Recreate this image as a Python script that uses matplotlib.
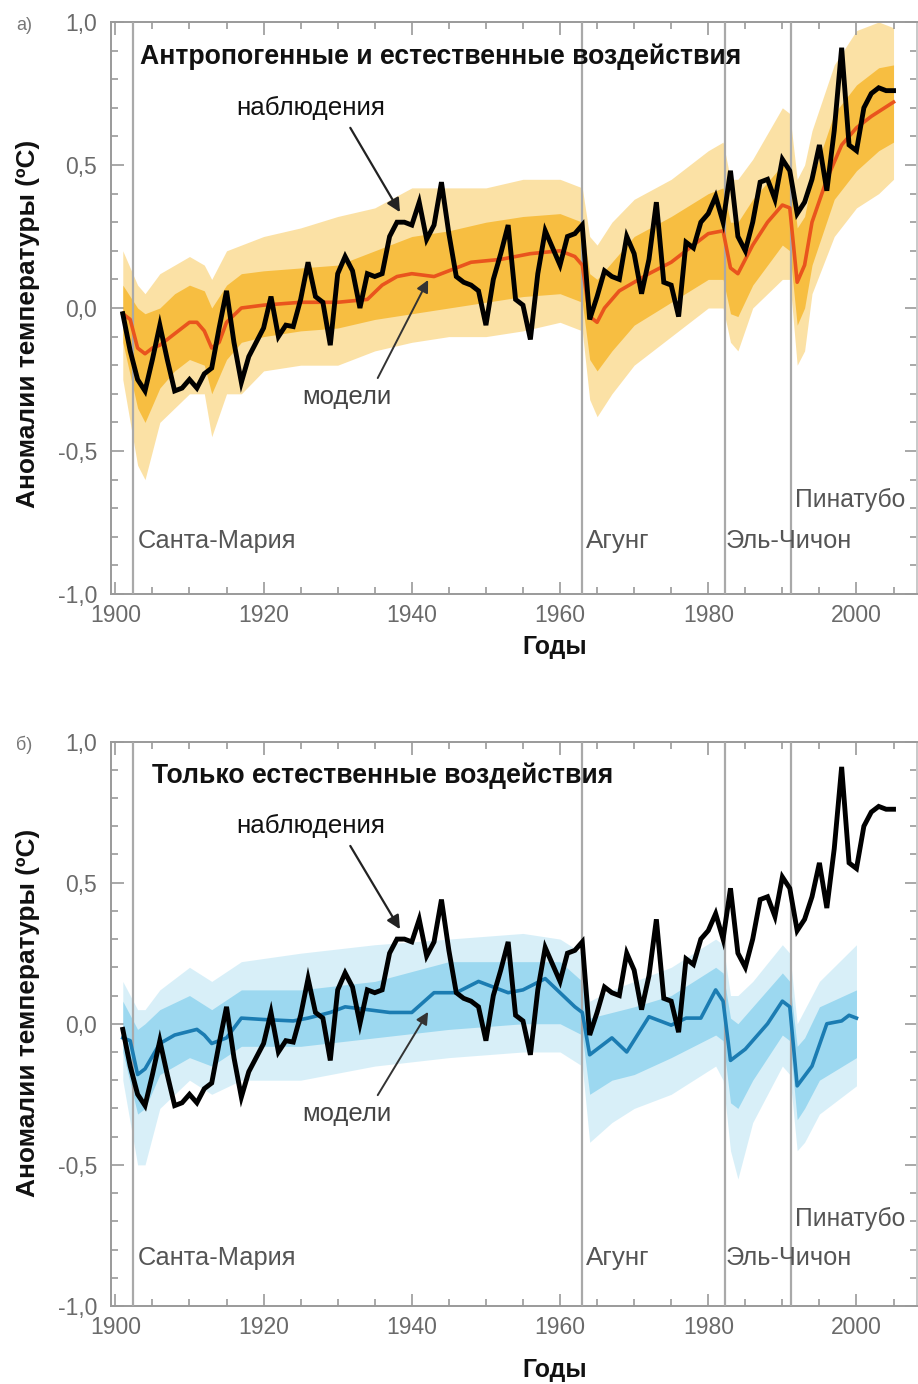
import matplotlib
matplotlib.use("Agg")
import matplotlib.pyplot as plt
import numpy as np
from matplotlib.ticker import MultipleLocator, FixedLocator, FuncFormatter

plt.rcParams['font.family'] = ['Liberation Sans', 'DejaVu Sans']

# ---------------- data ----------------
obs_years = list(range(1901, 2006))
obs = [-0.02, -0.15, -0.25, -0.29, -0.18, -0.06, -0.18, -0.29, -0.28, -0.25,
       -0.28, -0.23, -0.21, -0.07, 0.06, -0.12, -0.26, -0.17, -0.12, -0.07,
       0.04, -0.10, -0.06, -0.065, 0.03, 0.16, 0.04, 0.02, -0.13, 0.12,
       0.18, 0.13, 0.00, 0.12, 0.11, 0.12, 0.25, 0.30, 0.30, 0.29,
       0.37, 0.24, 0.29, 0.44, 0.26, 0.11, 0.09, 0.08, 0.06, -0.06,
       0.10, 0.19, 0.29, 0.03, 0.01, -0.11, 0.12, 0.27, 0.21, 0.15,
       0.25, 0.26, 0.29, -0.04, 0.04, 0.13, 0.11, 0.10, 0.25, 0.19,
       0.05, 0.17, 0.37, 0.09, 0.08, -0.03, 0.23, 0.21, 0.30, 0.33,
       0.39, 0.30, 0.48, 0.25, 0.20, 0.30, 0.44, 0.45, 0.38, 0.52,
       0.48, 0.33, 0.37, 0.45, 0.57, 0.41, 0.62, 0.91, 0.57, 0.55,
       0.70, 0.75, 0.77, 0.76, 0.76]

# panel a: all forcings model mean
mean_a_years = [1901, 1902, 1903, 1904, 1905, 1906, 1908, 1910, 1911, 1912, 1913, 1914,
                1915, 1917, 1920, 1925, 1930, 1934, 1936, 1938, 1940, 1943, 1945, 1948,
                1952, 1956, 1960, 1962, 1963, 1964, 1965, 1966, 1968, 1970, 1972, 1975,
                1978, 1980, 1982, 1983, 1984, 1986, 1988, 1990, 1991, 1992, 1993, 1994,
                1996, 1998, 2000, 2002, 2005]
mean_a = [-0.02, -0.04, -0.14, -0.16, -0.14, -0.13, -0.09, -0.05, -0.05, -0.08, -0.14, -0.12,
          -0.05, 0.00, 0.01, 0.02, 0.02, 0.03, 0.08, 0.11, 0.12, 0.11, 0.13, 0.16,
          0.17, 0.19, 0.20, 0.18, 0.15, -0.03, -0.05, 0.00, 0.06, 0.09, 0.12, 0.16,
          0.22, 0.26, 0.27, 0.14, 0.12, 0.22, 0.30, 0.36, 0.35, 0.09, 0.15, 0.30,
          0.45, 0.57, 0.63, 0.67, 0.72]

env_a_years = [1901, 1903, 1904, 1906, 1908, 1910, 1912, 1913, 1915, 1917, 1920, 1925, 1930,
               1935, 1940, 1945, 1950, 1955, 1960, 1963, 1964, 1965, 1967, 1970, 1975, 1980,
               1982, 1983, 1984, 1986, 1990, 1991, 1992, 1993, 1994, 1997, 2000, 2003, 2005]
a_outer_lo = [-0.25, -0.55, -0.60, -0.40, -0.35, -0.30, -0.30, -0.45, -0.30, -0.30, -0.22, -0.20, -0.20,
              -0.15, -0.12, -0.10, -0.10, -0.08, -0.05, -0.08, -0.32, -0.38, -0.30, -0.20, -0.10, 0.00,
              0.00, -0.12, -0.15, 0.00, 0.10, 0.10, -0.20, -0.15, 0.05, 0.25, 0.35, 0.40, 0.45]
a_inner_lo = [-0.12, -0.35, -0.40, -0.28, -0.22, -0.18, -0.20, -0.30, -0.18, -0.12, -0.10, -0.08, -0.07,
              -0.04, -0.02, 0.00, 0.02, 0.04, 0.05, 0.02, -0.18, -0.22, -0.15, -0.06, 0.02, 0.10,
              0.10, -0.02, -0.03, 0.08, 0.22, 0.20, -0.06, 0.00, 0.15, 0.38, 0.48, 0.55, 0.58]
a_inner_hi = [0.08, 0.00, -0.02, 0.00, 0.05, 0.08, 0.06, 0.00, 0.08, 0.12, 0.13, 0.14, 0.15,
              0.20, 0.25, 0.27, 0.30, 0.32, 0.33, 0.30, 0.12, 0.10, 0.16, 0.25, 0.32, 0.40,
              0.42, 0.30, 0.30, 0.38, 0.50, 0.50, 0.28, 0.32, 0.45, 0.68, 0.78, 0.84, 0.85]
a_outer_hi = [0.20, 0.08, 0.05, 0.12, 0.15, 0.18, 0.15, 0.10, 0.20, 0.22, 0.25, 0.28, 0.32,
              0.35, 0.42, 0.42, 0.42, 0.45, 0.45, 0.42, 0.25, 0.22, 0.30, 0.38, 0.45, 0.55,
              0.58, 0.45, 0.45, 0.52, 0.70, 0.68, 0.45, 0.50, 0.62, 0.85, 0.97, 1.00, 0.98]

# panel b: natural forcings only model mean
mean_b_years = [1901, 1902, 1903, 1904, 1906, 1908, 1911, 1912, 1913, 1915, 1917, 1920, 1924,
                1926, 1929, 1931, 1934, 1937, 1940, 1943, 1946, 1949, 1953, 1955, 1958, 1960,
                1962, 1963, 1964, 1967, 1969, 1972, 1975, 1977, 1979, 1981, 1982, 1983,
                1985, 1988, 1990, 1991, 1992, 1994, 1996, 1998, 1999, 2000]
mean_b = [-0.05, -0.06, -0.18, -0.16, -0.07, -0.04, -0.02, -0.04, -0.07, -0.05, 0.02, 0.015, 0.01,
          0.02, 0.04, 0.06, 0.05, 0.04, 0.04, 0.11, 0.11, 0.15, 0.11, 0.12, 0.16, 0.11,
          0.06, 0.04, -0.11, -0.05, -0.10, 0.025, -0.005, 0.02, 0.02, 0.12, 0.08, -0.13,
          -0.09, 0.00, 0.08, 0.06, -0.22, -0.15, 0.00, 0.01, 0.03, 0.02]

env_b_years = [1901, 1903, 1904, 1906, 1910, 1913, 1917, 1925, 1935, 1945, 1955, 1960, 1963, 1964,
               1967, 1970, 1975, 1981, 1982, 1983, 1984, 1986, 1990, 1991, 1992, 1993, 1995, 2000]
b_outer_lo = [-0.20, -0.50, -0.50, -0.30, -0.20, -0.25, -0.20, -0.20, -0.15, -0.12, -0.10, -0.10, -0.15, -0.42,
              -0.35, -0.30, -0.25, -0.15, -0.20, -0.45, -0.55, -0.35, -0.15, -0.18, -0.45, -0.42, -0.32, -0.22]
b_inner_lo = [-0.10, -0.32, -0.30, -0.18, -0.12, -0.15, -0.08, -0.08, -0.05, -0.02, 0.00, 0.00, -0.04, -0.25,
              -0.20, -0.18, -0.12, -0.04, -0.06, -0.28, -0.30, -0.20, -0.04, -0.06, -0.34, -0.30, -0.20, -0.12]
b_inner_hi = [0.08, -0.02, 0.00, 0.05, 0.10, 0.05, 0.12, 0.12, 0.15, 0.22, 0.22, 0.22, 0.15, 0.02,
              0.04, 0.06, 0.10, 0.20, 0.18, 0.02, 0.00, 0.06, 0.18, 0.15, -0.08, -0.05, 0.06, 0.12]
b_outer_hi = [0.15, 0.05, 0.05, 0.12, 0.20, 0.15, 0.22, 0.25, 0.28, 0.30, 0.32, 0.30, 0.25, 0.08,
              0.12, 0.15, 0.20, 0.30, 0.28, 0.10, 0.10, 0.15, 0.28, 0.25, 0.00, 0.05, 0.15, 0.28]

volcano_years = [1902.4, 1963, 1982.2, 1991.2]
volcano_names = ['Санта-Мария', 'Агунг', 'Эль-Чичон', 'Пинатубо']

x_ticks = [1900, 1920, 1940, 1960, 1980, 2000]
y_ticks = [-1.0, -0.5, 0.0, 0.5, 1.0]

titles = ['Антропогенные и естественные воздействия', 'Только естественные воздействия']
panel_tags = ['а)', 'б)']
ylabel = 'Аномалии температуры (ºC)'
xlabel = 'Годы'

# ---------------- figure ----------------
W, H = 918, 1384
fig = plt.figure(figsize=(W / 100, H / 100), dpi=100)

def fx(px):
    return px / W

def fy(py):
    return 1 - py / H

ax_a = fig.add_axes([fx(111), fy(594), fx(916.5) - fx(111), fy(22) - fy(594)])
ax_b = fig.add_axes([fx(111), fy(1306), fx(916.5) - fx(111), fy(741.5) - fy(1306)])

renderer = fig.canvas.get_renderer()

def fit_w(t, target):
    bb = t.get_window_extent(renderer)
    t.set_fontsize(t.get_fontsize() * target / bb.width)

def fit_h(t, target):
    bb = t.get_window_extent(renderer)
    t.set_fontsize(t.get_fontsize() * target / bb.height)

GRAY = '#9a9a9a'
TICKGRAY = '#6a6a6a'

def style(ax):
    ax.set_xlim(1899.41, 2008.1)
    ax.set_ylim(-1.0, 1.0)
    ax.xaxis.set_major_locator(FixedLocator(x_ticks))
    ax.xaxis.set_minor_locator(MultipleLocator(5))
    ax.yaxis.set_major_locator(FixedLocator(y_ticks))
    ax.yaxis.set_minor_locator(MultipleLocator(0.1))
    ax.yaxis.set_major_formatter(FuncFormatter(lambda v, p: ('%.1f' % v).replace('.', ',')))
    for s in ax.spines.values():
        s.set_color(GRAY)
        s.set_linewidth(1.4)
    ax.spines['right'].set_color('#c8c8c8')
    ax.tick_params(which='both', direction='in', top=True, right=True, color=GRAY, width=1.2)
    ax.tick_params(which='major', length=9)
    ax.tick_params(which='minor', length=5)
    ax.tick_params(axis='y', which='major', pad=10, labelsize=16.5, labelcolor=TICKGRAY)
    ax.tick_params(axis='x', which='major', pad=7, labelsize=16.5, labelcolor=TICKGRAY)

panels = [
    (ax_a, env_a_years, a_outer_lo, a_outer_hi, a_inner_lo, a_inner_hi, mean_a_years, mean_a,
     '#FBDC96', '#F6B320', '#E9541D', -0.815, -0.67, 0.85, 0.75),
    (ax_b, env_b_years, b_outer_lo, b_outer_hi, b_inner_lo, b_inner_hi, mean_b_years, mean_b,
     '#D4EEF8', '#8DD3EE', '#1B7CB2', -0.83, -0.69, 0.9, 0.8),
]

for i, (ax, ey, olo, ohi, ilo, ihi, my, mv, c_out, c_in, c_mean, vy, vy_p, a_out, a_in) in enumerate(panels):
    style(ax)
    ax.fill_between(ey, olo, ohi, color=c_out, alpha=a_out, lw=0, zorder=1)
    ax.fill_between(ey, ilo, ihi, color=c_in, alpha=a_in, lw=0, zorder=2)
    for vx in volcano_years:
        ax.axvline(vx, color='#a9a9a9', lw=1.6, zorder=3)
    ax.plot(my, mv, color=c_mean, lw=2.6, zorder=4, solid_joinstyle='round')
    ax.plot(obs_years, obs, color='black', lw=3.5, zorder=5, solid_joinstyle='miter')

    # volcano labels
    offs = [0.65, 0.5, 0.2, 0.5]
    widths = [160, 64, 127, 111]
    for k, (vx, name) in enumerate(zip(volcano_years, volcano_names)):
        yy = vy_p if k == 3 else vy
        t = ax.text(vx + offs[k], yy, name, color='#555555', fontsize=14,
                    ha='left', va='center', zorder=6)
        fit_w(t, widths[k])

    # title
    tx = 1903.3 if i == 0 else 1904.9
    t = ax.text(tx, 0.878, titles[i], fontweight='bold', fontsize=17, color='#111111',
                ha='left', va='center', zorder=6)
    fit_w(t, 600 if i == 0 else 460)

    # annotations
    t = ax.text(1926.3, 0.70, 'наблюдения', fontsize=15, color='#111111', ha='center', va='center')
    fit_w(t, 150)
    ax.annotate('', xy=(1938.4, 0.335), xytext=(1931.7, 0.63),
                arrowprops=dict(arrowstyle='-|>', color='#222222', lw=1.6, mutation_scale=20,
                                shrinkA=0, shrinkB=0), zorder=6)
    my_lab = -0.31 if i == 0 else -0.318
    t = ax.text(1931.3, my_lab, 'модели', fontsize=13, color='#444444', ha='center', va='center')
    fit_w(t, 89)
    tip_y = 0.098 if i == 0 else 0.042
    ax.annotate('', xy=(1942.2, tip_y), xytext=(1935.4, my_lab + 0.065),
                arrowprops=dict(arrowstyle='-|>', color='#333333', lw=1.4, mutation_scale=18,
                                shrinkA=0, shrinkB=0), zorder=6)

# figure-level labels
for cy, xl_y in [(324, 647), (1013, 1370)]:
    t = fig.text(fx(28), fy(cy), ylabel, rotation=90, fontweight='bold', fontsize=16,
                 ha='center', va='center', color='#111111')
    fit_h(t, 368)
    t = fig.text(fx(555), fy(xl_y), xlabel, fontweight='bold', fontsize=17,
                 ha='center', va='center', color='#111111')
    fit_w(t, 65)

fig.text(fx(24), fy(25), panel_tags[0], fontsize=13, color='#777777', ha='center', va='center')
fig.text(fx(24), fy(745), panel_tags[1], fontsize=13, color='#777777', ha='center', va='center')

fig.savefig('out.png', dpi=100)
